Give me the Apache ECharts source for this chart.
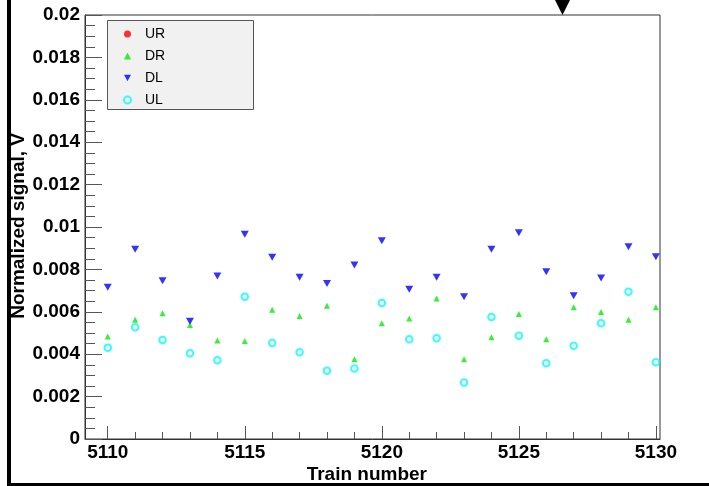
<!DOCTYPE html>
<html>
<head>
<meta charset="utf-8">
<script src="https://cdn.jsdelivr.net/npm/echarts@6/dist/echarts.min.js"></script>
<style>html,body{margin:0;padding:0;background:#fff}#c{width:709px;height:486px}</style>
</head>
<body>
<div id="c"></div>
<script>
const trains = [5110,5111,5112,5113,5114,5115,5116,5117,5118,5119,5120,5121,5122,5123,5124,5125,5126,5127,5128,5129,5130];
const ur = [];
const dr = [0.00483,0.00563,0.00593,0.00538,0.00465,0.00462,0.00610,0.00580,0.00629,0.00376,0.00546,0.00568,0.00663,0.00376,0.00480,0.00590,0.00470,0.00621,0.00599,0.00563,0.00621];
const dl = [0.00716,0.00895,0.00747,0.00555,0.00769,0.00966,0.00857,0.00763,0.00733,0.00821,0.00935,0.00706,0.00763,0.00671,0.00895,0.00973,0.00789,0.00676,0.00759,0.00907,0.00860];
const ul = [0.00431,0.00527,0.00467,0.00404,0.00371,0.00671,0.00453,0.00409,0.00322,0.00332,0.00642,0.00470,0.00475,0.00266,0.00575,0.00487,0.00357,0.00440,0.00546,0.00695,0.00362];
const majorX = [5110,5115,5120,5125,5130];
const minorX = trains.filter(t => t % 5 !== 0);
const xMin = 5109.17, xMax = 5130.15;

const pairs = arr => arr.map((v,i) => [trains[i], v]);
const chart = echarts.init(document.getElementById('c'), null, {renderer:'canvas'});
const F = 'Liberation Sans, Arial, Helvetica, sans-serif';
const downTri = 'path://M0,0 L10,0 L5,9 Z';
chart.setOption({
  backgroundColor:'#fff',
  animation:false,
  grid:{left:85,right:49,top:15,bottom:47,show:true,borderColor:'#333',borderWidth:1,backgroundColor:'transparent'},
  xAxis:[{
    type:'value',min:xMin,max:xMax,
    axisLine:{lineStyle:{color:'#333',width:1}},
    axisTick:{show:true,inside:true,length:13,customValues:majorX,lineStyle:{color:'#555'}},
    axisLabel:{customValues:majorX,color:'#000',fontFamily:F,fontWeight:'bold',fontSize:19,margin:4,
      formatter:v => String(Math.round(v))},
    splitLine:{show:false}
  },{
    type:'value',min:xMin,max:xMax,position:'bottom',
    axisLine:{show:false},
    axisTick:{show:true,inside:true,length:7,customValues:minorX,lineStyle:{color:'#555'}},
    axisLabel:{show:false},
    splitLine:{show:false}
  }],
  yAxis:{
    type:'value',min:0,max:0.02,interval:0.002,
    axisLine:{show:true,lineStyle:{color:'#333',width:1}},
    axisTick:{show:true,inside:true,length:17,lineStyle:{color:'#555'}},
    minorTick:{show:true,splitNumber:4,length:10,lineStyle:{color:'#555'}},
    axisLabel:{color:'#000',fontFamily:F,fontWeight:'bold',fontSize:19,margin:5,
      formatter:v => v === 0 ? '0' : String(+v.toFixed(3))},
    splitLine:{show:false}
  },
  legend:{
    orient:'vertical',left:118,top:22,itemWidth:7,itemHeight:7,itemGap:8,
    textStyle:{fontFamily:F,fontSize:14,color:'#000',padding:[0,0,0,9],lineHeight:14},
    data:[{name:'UR',icon:'circle'},{name:'DR',icon:'triangle'},{name:'DL',icon:downTri},{name:'UL',icon:'emptyCircle'}]
  },
  graphic:[
    {type:'rect',shape:{x:107.5,y:20.5,width:146,height:89},style:{fill:'#f1f1f1',stroke:'#555',lineWidth:1},z:-1,silent:true},
    {type:'rect',shape:{x:7,y:0,width:4,height:486},style:{fill:'#000'},z:100},
    {type:'rect',shape:{x:7,y:483,width:702,height:3},style:{fill:'#000'},z:100},
    {type:'polygon',shape:{points:[[555,0],[570,0],[562.5,15]]},style:{fill:'#000'},z:100},
    {type:'text',x:427,y:484,style:{text:'Train number',font:'bold 19px '+F,fill:'#000',textAlign:'right',textVerticalAlign:'bottom'},z:50},
    {type:'text',x:19,y:133,rotation:Math.PI/2,style:{text:'Normalized signal, V',font:'bold 19px '+F,fill:'#000',textAlign:'right',textVerticalAlign:'middle'},z:50}
  ],
  series:[
    {name:'UR',type:'scatter',data:pairs(ur),symbol:'circle',symbolSize:6,itemStyle:{color:'#ff0000'}},
    {name:'DR',type:'scatter',data:pairs(dr),symbol:'triangle',symbolSize:6,itemStyle:{color:'#00ee00'}},
    {name:'DL',type:'scatter',data:pairs(dl),symbol:downTri,symbolSize:[8,7],itemStyle:{color:'#0000ff'}},
    {name:'UL',type:'scatter',data:pairs(ul),symbol:'emptyCircle',symbolSize:6.5,itemStyle:{color:'#00ffff',borderWidth:1.3}}
  ]
});
</script>
</body>
</html>
